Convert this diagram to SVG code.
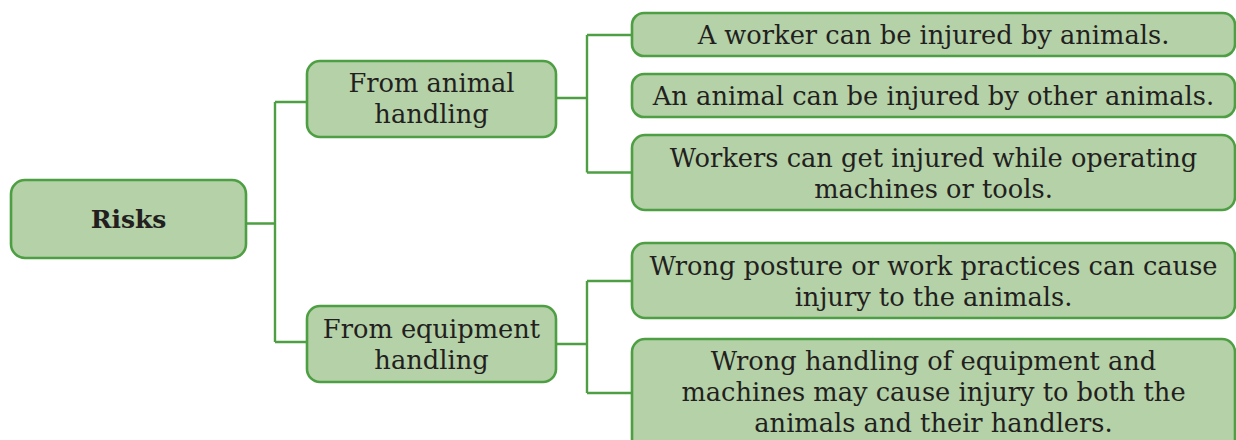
<svg xmlns="http://www.w3.org/2000/svg" width="1236" height="440" viewBox="0 0 1236 440">
<style>
.box{fill:#b4d1a7;stroke:#4e9f43;stroke-width:2.6}
.ln{fill:none;stroke:#4e9f43;stroke-width:2.4}
text{font-family:"DejaVu Serif","Liberation Serif",serif;font-size:25.7px;fill:#231f20;text-anchor:middle}
.b{font-weight:bold;font-size:25px}
</style>
<rect width="1236" height="440" fill="#ffffff"/>
<g id="connectors">
<path class="ln" d="M246 223.5H275M275 102V342M275 102H307M275 342H307"/>
<path class="ln" d="M556 98H587M587 35V172.5M587 35H632M587 172.5H632"/>
<path class="ln" d="M556 344H587M587 281V393M587 281H632M587 393H632"/>
</g>
<g id="risks">
<rect class="box" x="11" y="180" width="235" height="78" rx="14"/>
<text class="b" x="128.5" y="228">Risks</text>
</g>
<g id="animal">
<rect class="box" x="307" y="61" width="249" height="76" rx="13"/>
<text x="431.5" y="91.5">From animal</text>
<text x="431.5" y="123">handling</text>
</g>
<g id="equipment">
<rect class="box" x="307" y="306" width="249" height="76" rx="13"/>
<text x="431.5" y="337.5">From equipment</text>
<text x="431.5" y="369">handling</text>
</g>
<g id="r1">
<rect class="box" x="632" y="13" width="603" height="43" rx="12"/>
<text x="933.5" y="44">A worker can be injured by animals.</text>
</g>
<g id="r2">
<rect class="box" x="632" y="74" width="603" height="43" rx="12"/>
<text x="933.5" y="104.5">An animal can be injured by other animals.</text>
</g>
<g id="r3">
<rect class="box" x="632" y="135" width="603" height="75" rx="13"/>
<text x="933.5" y="166.5">Workers can get injured while operating</text>
<text x="933.5" y="198">machines or tools.</text>
</g>
<g id="r4">
<rect class="box" x="632" y="243" width="603" height="75" rx="13"/>
<text x="933.5" y="274.5">Wrong posture or work practices can cause</text>
<text x="933.5" y="306">injury to the animals.</text>
</g>
<g id="r5">
<rect class="box" x="632" y="339" width="603" height="115" rx="13"/>
<text x="933.5" y="370">Wrong handling of equipment and</text>
<text x="933.5" y="401">machines may cause injury to both the</text>
<text x="933.5" y="432">animals and their handlers.</text>
</g>
</svg>
